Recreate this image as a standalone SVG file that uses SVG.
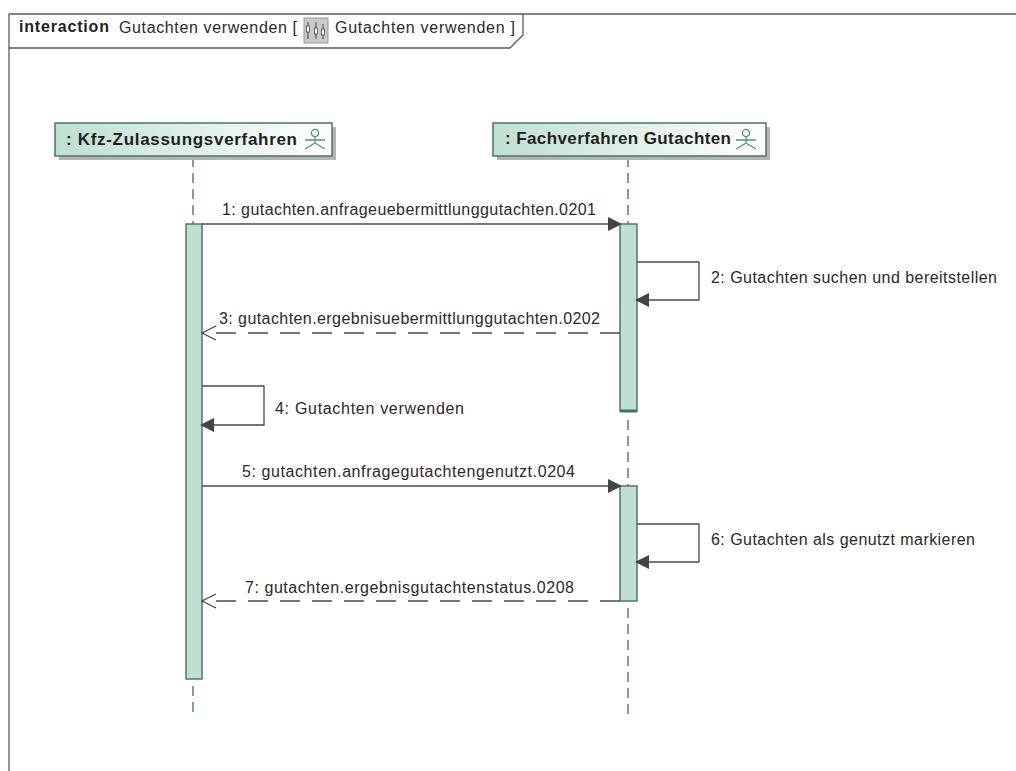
<svg xmlns="http://www.w3.org/2000/svg" width="1016" height="771" viewBox="0 0 1016 771">
<style>
text{font-family:"Liberation Sans",Arial,sans-serif;font-size:16px;fill:#2a2a2a}
.b{font-weight:bold;font-size:17px;fill:#1f1f1f}
.frame{fill:none;stroke:#5a5a5a;stroke-width:1.3}
.box{fill:url(#g);stroke:#4a7565;stroke-width:1.5}
.sh{fill:#b4b4b4}
.act{fill:#bfe0d0;stroke:#4f7a68;stroke-width:1.5}
.life{stroke:#3f6f5d;stroke-width:1.3;stroke-dasharray:10 6;fill:none}
.m{stroke:#4a4a4a;stroke-width:1.3;fill:none}
.d{stroke-dasharray:20 12}
.fig{stroke:#5f8f7a;stroke-width:1.3;fill:none}
.ah{fill:#444}
</style>
<defs>
<linearGradient id="g" x1="0" x2="1" y1="0" y2="0"><stop offset="0" stop-color="#bfe0d0"/><stop offset="1" stop-color="#ffffff"/></linearGradient>
<symbol id="fig" overflow="visible"><circle cx="0" cy="-7" r="3.6" class="fig"/><path class="fig" d="M0 -3.4V3M-10 0H10M0 3L-10 9M0 3L10 9"/></symbol>
</defs>
<rect width="1016" height="771" fill="#fff"/>
<g id="frame">
<path class="frame" d="M9 771V14H1016"/>
<path class="frame" d="M9 48H510L523 35V14"/>
<text class="b" x="19" y="32" style="font-size:16px" textLength="90" lengthAdjust="spacing">interaction</text>
<text x="119" y="33" textLength="178" lengthAdjust="spacing">Gutachten verwenden [</text>
<g id="icon">
<rect x="304" y="18" width="24" height="25" fill="#c9c9c9" stroke="#999"/>
<path d="M308 22V39M316 22V39M323 24V39" stroke="#444" fill="none"/>
<rect x="306.500" y="26" width="3" height="6" fill="#fff" stroke="#333" stroke-width=".7"/>
<rect x="314.500" y="28" width="3" height="6" fill="#fff" stroke="#333" stroke-width=".7"/>
<rect x="321.500" y="29" width="3" height="6" fill="#fff" stroke="#333" stroke-width=".7"/>
</g>
<text x="335" y="33" textLength="180" lengthAdjust="spacing">Gutachten verwenden ]</text>
</g>
<g id="connectors">
<path class="life" d="M193 157V224M193 686V718"/>
<path class="life" d="M628 157V224M628 420V486M628 608V718"/>
</g>
<g id="actor1">
<rect class="sh" x="59" y="127" width="277" height="33"/>
<rect class="box" x="55" y="123" width="277" height="33"/>
<text class="b" x="66" y="145" textLength="231" lengthAdjust="spacing">: Kfz-Zulassungsverfahren</text>
<use href="#fig" x="315" y="140"/>
</g>
<g id="actor2">
<rect class="sh" x="497" y="127" width="273" height="33"/>
<rect class="box" x="493" y="123" width="273" height="33"/>
<text class="b" x="505" y="144" textLength="226" lengthAdjust="spacing">: Fachverfahren Gutachten</text>
<use href="#fig" x="746" y="140"/>
</g>
<g id="activation1"><rect class="act" x="186" y="224" width="16" height="455"/></g>
<g id="activation2"><rect class="act" x="620" y="224" width="17" height="187"/><path d="M620 411H637" stroke="#3f6f5d" stroke-width="3"/></g>
<g id="activation3"><rect class="act" x="620" y="486" width="17" height="115"/></g>
<g id="messages">
<path class="m" d="M202 224H620"/><path class="ah" d="M622 224L608 217V231Z"/>
<text x="222" y="215" textLength="374" lengthAdjust="spacing">1: gutachten.anfrageuebermittlunggutachten.0201</text>
<path class="m" d="M637 262H699V300H637"/><path class="ah" d="M635 300L649 293V307Z"/>
<text x="711" y="283" textLength="286" lengthAdjust="spacing">2: Gutachten suchen und bereitstellen</text>
<path class="m d" d="M620 333H202"/><path class="m" d="M216 326L202 333L216 340"/>
<text x="219" y="324" textLength="381" lengthAdjust="spacing">3: gutachten.ergebnisuebermittlunggutachten.0202</text>
<path class="m" d="M202 386H264V425H202"/><path class="ah" d="M200 425L214 418V432Z"/>
<text x="275" y="414" textLength="189" lengthAdjust="spacing">4: Gutachten verwenden</text>
<path class="m" d="M202 486H620"/><path class="ah" d="M622 486L608 479V493Z"/>
<text x="242" y="477" textLength="333" lengthAdjust="spacing">5: gutachten.anfragegutachtengenutzt.0204</text>
<path class="m" d="M637 524H699V562H637"/><path class="ah" d="M635 562L649 555V569Z"/>
<text x="711" y="545" textLength="264" lengthAdjust="spacing">6: Gutachten als genutzt markieren</text>
<path class="m d" d="M620 601H202"/><path class="m" d="M216 594L202 601L216 608"/>
<text x="245" y="593" textLength="329" lengthAdjust="spacing">7: gutachten.ergebnisgutachtenstatus.0208</text>
</g>
</svg>
